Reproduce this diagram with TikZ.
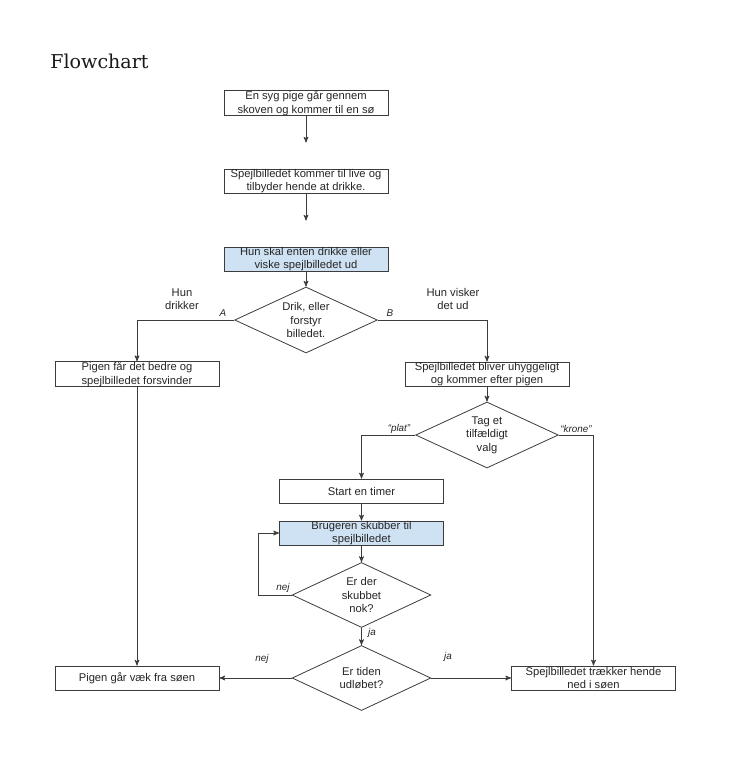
\documentclass[tikz,border=0pt]{standalone}
\usepackage{fontspec}
\setmainfont{Liberation Sans}
\newfontfamily\titlefont{DejaVu Serif}
\usepackage{tikz}
\usetikzlibrary{arrows,shapes.geometric}

\definecolor{linegray}{HTML}{3C3C3C}
\definecolor{pickblue}{HTML}{CFE2F3}
\newcommand{\boxfont}{\fontsize{8.4}{10.1}\selectfont}
\newcommand{\lblfont}{\fontsize{7.4}{9}\selectfont\itshape}

\begin{document}
\begin{tikzpicture}[->,>=stealth',x=0.75pt,y=-0.75pt,node distance=58.5pt,
                    line width=0.6pt]
      \tikzstyle{box}=[draw=linegray,rectangle,minimum width=123pt,
                       minimum height=18pt,inner sep=0pt,align=center,
                       font=\boxfont,text=black!85]
      \tikzstyle{choice}=[draw=linegray,diamond,aspect=2.2,minimum width=107pt,
                          minimum height=49.5pt,inner sep=0pt,align=center,
                          font=\boxfont,text=black!85]
      \tikzstyle{side}=[font=\boxfont,align=center,inner sep=0pt,text=black!85]
      \tikzstyle{lbl}=[font=\lblfont,inner sep=0pt,text=black!85]
      \tikzstyle{flow}=[draw=linegray]

      \fill[white,-] (0,0) rectangle (730,768);
      \useasboundingbox (0,0) rectangle (730,768);

      \node[anchor=base west,inner sep=0pt,text=black!90,
            font={\titlefont\fontsize{14.3}{17}\selectfont}] (title) at (50,68) {Flowchart};

      \node[box]                (b1) at (306,103)  {En syg pige går gennem\\skoven og kommer til en sø};
      \node[box]                (b2) [below of=b1] {Spejlbilledet kommer til live og\\tilbyder hende at drikke.};
      \node[box,fill=pickblue]  (b3) [below of=b2] {Hun skal enten drikke eller\\viske spejlbilledet ud};
      \node[choice]             (d1) [below of=b3,node distance=45.75pt] {Drik, eller\\forstyr\\billedet.};
      \node[box]                (b4) at (137,374)  {Pigen får det bedre og\\spejlbilledet forsvinder};
      \node[box]                (b5) at (487,374)  {Spejlbilledet bliver uhyggeligt\\og kommer efter pigen};
      \node[choice]             (d2) [below of=b5,node distance=45.75pt] {Tag et\\tilfældigt\\valg};
      \node[box]                (b6) at (361.5,491) {Start en timer};
      \node[box,fill=pickblue]  (b7) [below of=b6,node distance=31.5pt] {Brugeren skubber til\\spejlbilledet};
      \node[choice,minimum width=104pt,minimum height=48.75pt]
                                (d3) [below of=b7,node distance=46.5pt] {Er der\\skubbet\\nok?};
      \node[choice,minimum width=104pt,minimum height=48.75pt]
                                (d4) [below of=d3,node distance=62.25pt] {Er tiden\\udløbet?};
      \node[box]                (b8) at (137,678)  {Pigen går væk fra søen};
      \node[box]                (b9) at (593.5,678) {Spejlbilledet trækker hende\\ned i søen};

      % labels
      \node[side] (hd) at (182,299) {Hun\\drikker};
      \node[side] (hv) at (453,299) {Hun visker\\det ud};
      \node[lbl]  (la) at (223,313) {A};
      \node[lbl]  (lb) at (390,313) {B};
      \node[lbl]  (lp) at (399,429) {“plat”};
      \node[lbl]  (lk) at (576,429) {“krone”};
      \node[lbl]  (n1) at (283,588) {nej};
      \node[lbl]  (j1) at (372,633) {ja};
      \node[lbl]  (n2) at (262,659) {nej};
      \node[lbl]  (j2) at (448,657) {ja};

      \draw[flow,shorten >=19.5pt] (b1) -- (b2);
      \draw[flow,shorten >=19.5pt] (b2) -- (b3);
      \draw[flow] (b3) -- (d1);
      \draw[flow] (d1.west) -| (b4.north);
      \draw[flow] (d1.east) -| (b5.north);
      \draw[flow] (b5) -- (d2);
      \draw[flow] (d2.west) -| (b6.north);
      \draw[flow] (d2.east) -| (b9.north);
      \draw[flow] (b6) -- (b7);
      \draw[flow] (b7) -- (d3);
      \draw[flow] (d3.west) -- ++(-33.5,0) |- (b7.west);
      \draw[flow] (d3) -- (d4);
      \draw[flow] (d4.west) -- (b8.east);
      \draw[flow] (d4.east) -- (b9.west);
      \draw[flow] (b4) -- (b8);

    \end{tikzpicture}
\end{document}
